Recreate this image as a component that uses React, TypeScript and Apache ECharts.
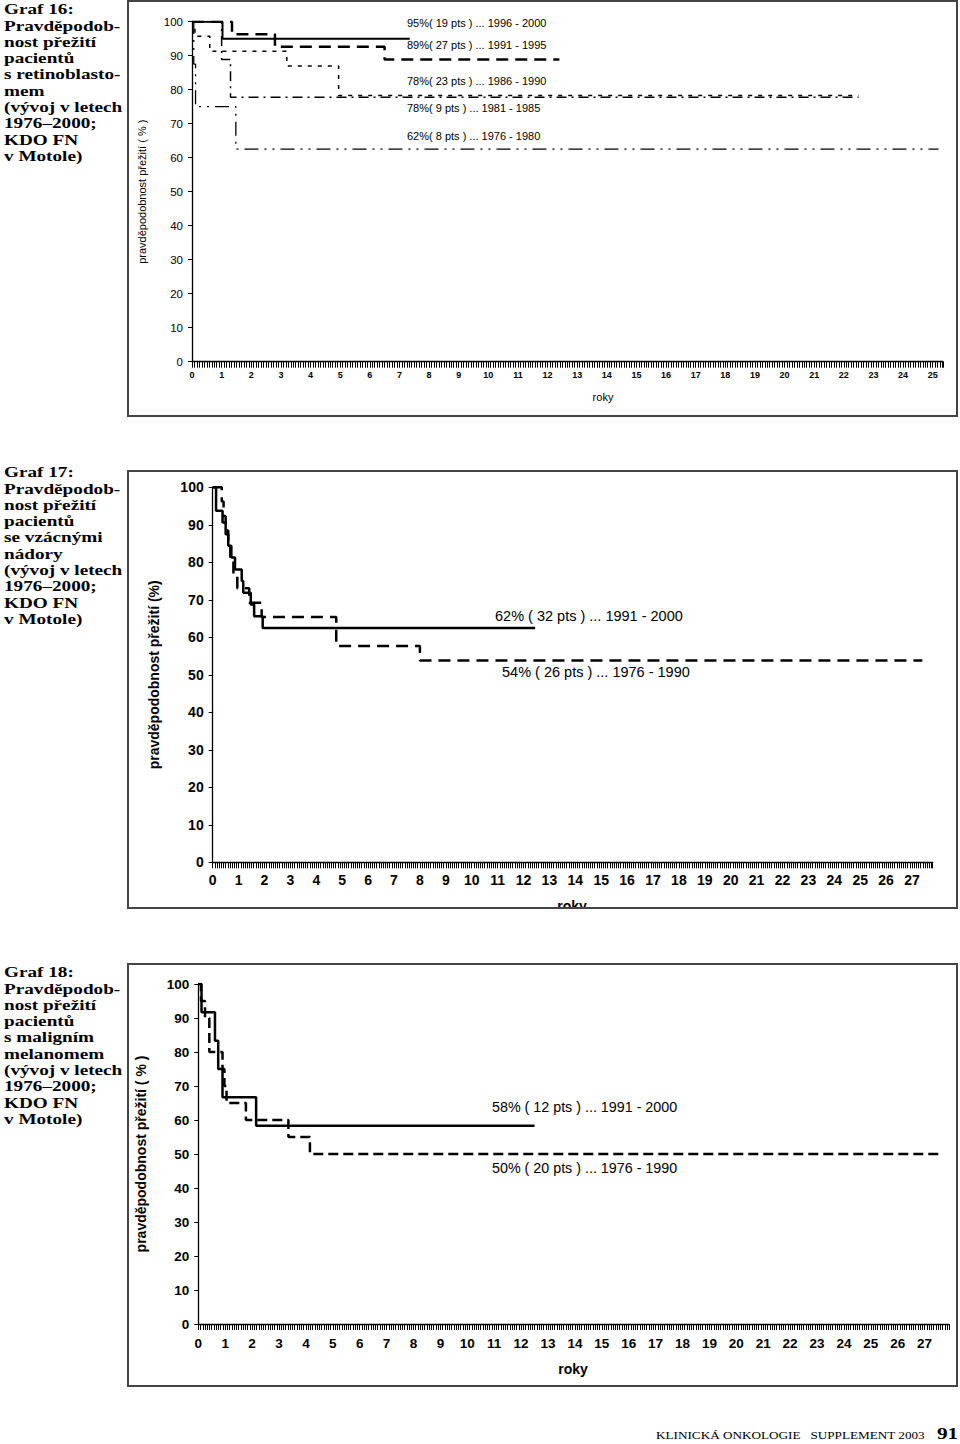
import React, { useEffect, useRef } from "react";
import * as echarts from "echarts";

// ---------------- Graf 16 (retinoblastom) : event times (years) / survival (%) ----------------
const g16_t_1996 = [0, 1.03, 7.35];
const g16_s_1996 = [100, 95, 95];
const g16_t_1991 = [0, 1.35, 2.8, 6.5, 12.4];
const g16_s_1991 = [100, 96.3, 92.6, 88.9, 88.9];
const g16_t_1986 = [0, 0.1, 0.6, 3.2, 4.95, 22.5];
const g16_s_1986 = [100, 95.7, 91.3, 87.0, 78.3, 78.3];
const g16_t_1981 = [0, 1.0, 1.3, 22.5];
const g16_s_1981 = [100, 88.9, 77.8, 77.8];
const g16_t_1976 = [0, 0.06, 0.12, 1.48, 25.2];
const g16_s_1976 = [100, 87.5, 75, 62.5, 62.5];
const g16_labels = [
  "95%( 19 pts ) ... 1996 - 2000",
  "89%( 27 pts ) ... 1991 - 1995",
  "78%( 23 pts ) ... 1986 - 1990",
  "78%( 9 pts ) ... 1981 - 1985",
  "62%( 8 pts ) ... 1976 - 1980",
];

// ---------------- Graf 17 (vzácné nádory) ----------------
const g17_t_new = [0, 0.13, 0.38, 0.5, 0.6, 0.72, 0.86, 1.12, 1.18, 1.47, 1.6, 1.93, 12.45];
const g17_s_new = [100, 93.75, 90.6, 87.5, 84.4, 81.25, 78.1, 75, 71.9, 68.75, 65.6, 62.5, 62.5];
const g17_t_old = [0, 0.35, 0.42, 0.5, 0.6, 0.68, 0.8, 0.95, 1.41, 1.89, 4.77, 8.0, 27.4];
const g17_s_old = [100, 96.2, 92.3, 88.5, 84.6, 80.8, 76.9, 73.1, 69.2, 65.4, 57.7, 53.8, 53.8];
const g17_labels = ["62% ( 32 pts ) ... 1991 - 2000", "54% ( 26 pts ) ... 1976 - 1990"];

// ---------------- Graf 18 (maligní melanom) ----------------
const g18_t_new = [0, 0.12, 0.62, 0.74, 0.9, 2.15, 12.5];
const g18_s_new = [100, 91.7, 83.3, 75, 66.7, 58.3, 58.3];
const g18_t_old = [0, 0.1, 0.25, 0.41, 0.9, 0.97, 1.05, 1.77, 3.35, 4.15, 27.6];
const g18_s_old = [100, 95, 90, 80, 75, 70, 65, 60, 55, 50, 50];
const g18_labels = ["58% ( 12 pts ) ... 1991 - 2000", "50% ( 20 pts ) ... 1976 - 1990"];

// ---------------- captions ----------------
const cap16 = ["Graf 16:", "Pravděpodob-", "nost přežití", "pacientů", "s retinoblasto-", "mem", "(vývoj v letech", "1976–2000;", "KDO FN", "v Motole)"];
const cap17 = ["Graf 17:", "Pravděpodob-", "nost přežití", "pacientů", "se vzácnými", "nádory", "(vývoj v letech", "1976–2000;", "KDO FN", "v Motole)"];
const cap18 = ["Graf 18:", "Pravděpodob-", "nost přežití", "pacientů", "s maligním", "melanomem", "(vývoj v letech", "1976–2000;", "KDO FN", "v Motole)"];
const footerText = "KLINICKÁ ONKOLOGIE   SUPPLEMENT 2003";
const pageNo = "91";
const xTitle = "roky";
const yTitle16 = "pravděpodobnost přežití ( % )";
const yTitle17 = "pravděpodobnost přežití (%)";
const yTitle18 = "pravděpodobnost přežití ( % )";

const pairs = (t: number[], s: number[]) => t.map((x, i) => [x, s[i]]);
const intLabel = (v: number) => (Math.abs(v - Math.round(v)) < 1e-6 ? String(Math.round(v)) : "");

function mkX(gi: number, max: number, fontSize: number, margin: number, weight: string, family: string) {
  return {
    gridIndex: gi,
    type: "value",
    min: 0,
    max,
    interval: 1,
    axisLine: { onZero: false, lineStyle: { color: "#000", width: 1.3 } },
    axisTick: { show: true, length: 6, lineStyle: { color: "#000", width: 1 } },
    minorTick: { show: true, splitNumber: 12, length: 6, lineStyle: { color: "#000", width: 1 } },
    splitLine: { show: false },
    axisLabel: { formatter: intLabel, fontSize, color: "#000", margin, fontWeight: weight, fontFamily: family },
  };
}

function mkY(gi: number, fontSize: number, name: string, nameGap: number, nameSize: number, weight: string, family: string) {
  return {
    gridIndex: gi,
    type: "value",
    min: 0,
    max: 100,
    interval: 10,
    axisLine: { show: true, lineStyle: { color: "#000", width: 1.3 } },
    axisTick: { show: true, length: 4, lineStyle: { color: "#000", width: 1 } },
    splitLine: { show: false },
    axisLabel: { fontSize, color: "#000", margin: 9, fontWeight: weight, fontFamily: family },
    name,
    nameLocation: "middle",
    nameRotate: 90,
    nameGap,
    nameTextStyle: { fontSize: nameSize, color: "#000", fontWeight: weight, fontFamily: family },
  };
}

function km(gi: number, t: number[], s: number[], width: number, dash: any) {
  return {
    type: "line",
    xAxisIndex: gi,
    yAxisIndex: gi,
    data: pairs(t, s),
    step: "end",
    symbol: "none",
    showSymbol: false,
    silent: true,
    lineStyle: { color: "#000", width, type: dash, cap: "butt" },
    emphasis: { disabled: true },
  };
}

function captionEls(lines: string[], y0: number) {
  return lines.map((txt, i) => ({
    type: "text",
    x: 4,
    y: y0 + i * 16.3,
    scaleX: 1.28,
    z: 20,
    style: {
      text: txt,
      fill: "#000",
      font: "bold 15px 'Liberation Serif', 'Times New Roman', serif",
      align: "left",
      verticalAlign: "middle",
    },
  }));
}

function textEl(txt: string, x: number, y: number, font: string, align = "left") {
  return {
    type: "text",
    x,
    y,
    z: 20,
    style: { text: txt, fill: "#000", font, align, verticalAlign: "middle" },
  };
}

export default function App() {
  const ref = useRef<HTMLDivElement>(null);
  useEffect(() => {
    if (!ref.current) return;
    const chart = echarts.init(ref.current, null, { renderer: "svg", width: 960, height: 1444 });
    const sans = "'Liberation Sans', Arial, sans-serif";
    const box17Top = 471;
    const g16LabelY = [23, 45, 81, 108, 136];

    const graphic: any[] = [
      // clip mask below box 2 (its x-axis title is cut by the frame)
      { type: "rect", z: 30, shape: { x: 120, y: 909, width: 845, height: 54 }, style: { fill: "#fff" } },
      // frames
      { type: "rect", z: 40, shape: { x: 128, y: 1, width: 829, height: 415 }, style: { fill: "none", stroke: "#444", lineWidth: 2 } },
      { type: "rect", z: 40, shape: { x: 128, y: box17Top, width: 829, height: 908 - box17Top }, style: { fill: "none", stroke: "#444", lineWidth: 2 } },
      { type: "rect", z: 40, shape: { x: 128, y: 964, width: 829, height: 422 }, style: { fill: "none", stroke: "#444", lineWidth: 2 } },
      ...captionEls(cap16, 9.5),
      ...captionEls(cap17, 472.5),
      ...captionEls(cap18, 972.5),
      ...g16_labels.map((t, i) => textEl(t, 407, g16LabelY[i], `11px ${sans}`)),
      textEl(g17_labels[0], 495, 616, `14.5px ${sans}`),
      textEl(g17_labels[1], 502, 672, `14.5px ${sans}`),
      textEl(g18_labels[0], 492, 1107, `14.3px ${sans}`),
      textEl(g18_labels[1], 492, 1168, `14.3px ${sans}`),
      textEl(xTitle, 603, 397, `11px ${sans}`, "center"),
      textEl(xTitle, 572, 906, `bold 14px ${sans}`, "center"),
      textEl(xTitle, 573, 1369, `bold 14px ${sans}`, "center"),
      {
        type: "text", x: 656, y: 1435, scaleX: 1.2, z: 20,
        style: { text: footerText, fill: "#000", font: "11px 'Liberation Serif', 'Times New Roman', serif", align: "left", verticalAlign: "middle" },
      },
      {
        type: "text", x: 937, y: 1433, scaleX: 1.25, z: 20,
        style: { text: pageNo, fill: "#000", font: "bold 17px 'Liberation Serif', 'Times New Roman', serif", align: "left", verticalAlign: "middle" },
      },
    ];

    chart.setOption({
      animation: false,
      backgroundColor: "#fff",
      grid: [
        { left: 192, top: 21.7, width: 751, height: 340 },
        { left: 212.7, top: 487.3, width: 720, height: 375 },
        { left: 198.3, top: 984, width: 750.5, height: 340 },
      ],
      xAxis: [
        mkX(0, 25.35, 9, 9, "bold", sans),
        mkX(1, 27.8, 14, 11, "bold", sans),
        mkX(2, 27.9, 13.5, 12, "bold", sans),
      ],
      yAxis: [
        mkY(0, 11.5, yTitle16, 45, 11, "normal", sans),
        mkY(1, 14, yTitle17, 52, 14, "bold", sans),
        mkY(2, 13.5, yTitle18, 50, 14, "bold", sans),
      ],
      series: [
        km(0, g16_t_1996, g16_s_1996, 2, "solid"),
        km(0, g16_t_1991, g16_s_1991, 2.5, [12, 7]),
        km(0, g16_t_1986, g16_s_1986, 1.5, [4, 6]),
        km(0, g16_t_1981, g16_s_1981, 1.5, [10, 5, 2, 5]),
        km(0, g16_t_1976, g16_s_1976, 1.3, [14, 6, 2, 6, 2, 6]),
        km(1, g17_t_new, g17_s_new, 2.5, "solid"),
        km(1, g17_t_old, g17_s_old, 2.5, [12, 7]),
        km(2, g18_t_new, g18_s_new, 2.5, "solid"),
        km(2, g18_t_old, g18_s_old, 2.5, [10, 5]),
      ],
      graphic,
    });
    return () => chart.dispose();
  }, []);
  return <div ref={ref} style={{ position: "absolute", left: 0, top: 0, width: 960, height: 1444, background: "#fff" }} />;
}
